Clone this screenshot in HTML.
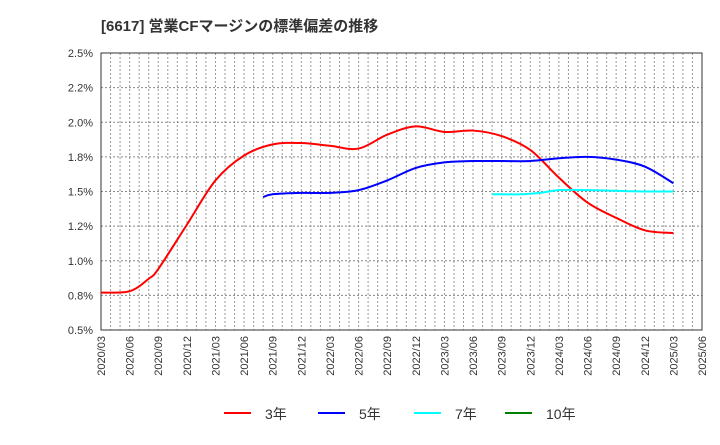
<!DOCTYPE html>
<html><head><meta charset="utf-8"><style>
body{margin:0;background:#fff;font-family:"Liberation Sans","Noto Sans CJK JP",sans-serif;}
</style></head><body>
<svg id="chart" width="720" height="440" xmlns="http://www.w3.org/2000/svg" style="font-family:'Liberation Sans','Noto Sans CJK JP',sans-serif">
<text x="101" y="31" font-size="15" font-weight="bold" fill="#333">[6617]  営業CFマージンの標準偏差の推移</text>
<g id="grid"></g><g id="axes"></g><g id="series"></g><g id="legend"></g>
</svg>
<script>
const xLabels=["2020/03","2020/06","2020/09","2020/12","2021/03","2021/06","2021/09","2021/12","2022/03","2022/06","2022/09","2022/12","2023/03","2023/06","2023/09","2023/12","2024/03","2024/06","2024/09","2024/12","2025/03","2025/06"];
const yTicks=[0.5,0.75,1.0,1.25,1.5,1.75,2.0,2.25,2.5];
const yTickLabels=["0.5%","0.8%","1.0%","1.2%","1.5%","1.8%","2.0%","2.2%","2.5%"];
// month index from 2020/03, value %
const s3m=[0,3,5,6,9,12,15,18,21,24,27,30,33,36,39,42,45,48,51,54,57,60];
const s3v=[0.77,0.78,0.87,0.94,1.26,1.58,1.76,1.84,1.85,1.83,1.81,1.91,1.97,1.93,1.94,1.90,1.80,1.60,1.42,1.31,1.22,1.20];
const s5m=[17,18,21,24,27,30,33,36,39,42,45,48,51,54,57,60];
const s5v=[1.46,1.48,1.49,1.49,1.51,1.58,1.67,1.71,1.72,1.72,1.72,1.74,1.75,1.73,1.68,1.56];
const s7m=[41,44,46,48,51,54,57,60];
const s7v=[1.48,1.48,1.49,1.51,1.51,1.505,1.50,1.50];
</script>
<script>
const L=101,R=702,T=53,B=330;
const xs=m=>L+(R-L)*m/63;
const ys=v=>B-(v-0.5)/2.0*(B-T);
const NS="http://www.w3.org/2000/svg";
function mk(tag,attrs,parent){const e=document.createElementNS(NS,tag);for(const k in attrs)e.setAttribute(k,attrs[k]);parent.appendChild(e);return e;}
const grid=document.getElementById('grid'),axes=document.getElementById('axes'),ser=document.getElementById('series'),leg=document.getElementById('legend');
for(let m=1;m<63;m++){const l=mk('line',{x1:xs(m),x2:xs(m),y1:T,y2:B,stroke:'#999','stroke-dasharray':'2,2','stroke-width':1},grid);

}
yTicks.forEach((v,i)=>{const l=mk('line',{x1:L,x2:R,y1:ys(v),y2:ys(v),stroke:'#888','stroke-dasharray':'2,2','stroke-width':1},grid);


const t=mk('text',{x:93,y:ys(v)+4,'text-anchor':'end','font-size':11,fill:'#333'},axes);t.textContent=yTickLabels[i];

});
xLabels.forEach((lab,i)=>{const x=xs(i*3);const t=mk('text',{x:0,y:0,transform:`translate(${x+4},336) rotate(-90)`,'text-anchor':'end','font-size':11,fill:'#333'},axes);t.textContent=lab;

});
const fr=mk('rect',{x:L,y:T,width:R-L,height:B-T,fill:'none',stroke:'#333','stroke-width':1},axes);


function path(ms,vs){const p=ms.map((m,i)=>[xs(m),ys(vs[i])]);let d=`M${p[0][0]},${p[0][1]}`;
for(let i=0;i<p.length-1;i++){const p0=p[i-1]||p[i],p1=p[i],p2=p[i+1],p3=p[i+2]||p2;
d+=` C${p1[0]+(p2[0]-p0[0])/6},${p1[1]+(p2[1]-p0[1])/6} ${p2[0]-(p3[0]-p1[0])/6},${p2[1]-(p3[1]-p1[1])/6} ${p2[0]},${p2[1]}`;}return d;}
function series(ms,vs,color,name){const n=Math.min(ms.length,vs.length);const e=mk('path',{d:path(ms.slice(0,n),vs.slice(0,n)),fill:'none',stroke:color,'stroke-width':2},ser);

}
series(s3m,s3v,'#ff0000','line-3yr');
series(s5m,s5v,'#0000ff','line-5yr');
series(s7m,s7v,'#00ffff','line-7yr');
const items=[['3年','#ff0000',224],['5年','#0000ff',318],['7年','#00ffff',414],['10年','#008000',505]];
items.forEach(([t,c,x])=>{const g=mk('g',{},leg);


mk('line',{x1:x,x2:x+27,y1:413,y2:413,stroke:c,'stroke-width':2},g);
const tx=mk('text',{x:x+41,y:419,'font-size':14,fill:'#333'},g);tx.textContent=t;});
</script>
</body></html>
